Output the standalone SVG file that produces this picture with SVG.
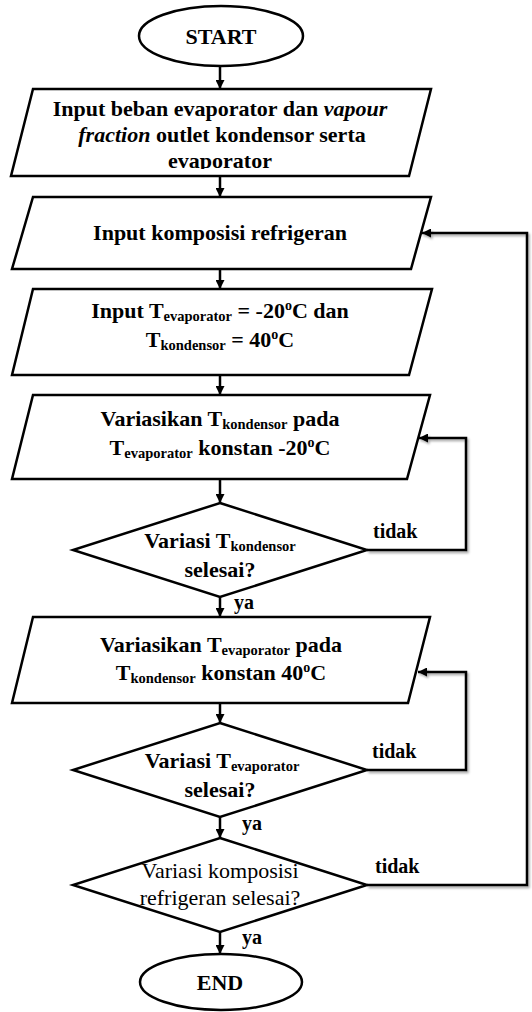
<svg xmlns="http://www.w3.org/2000/svg" width="532" height="1012" viewBox="0 0 532 1012">
<defs>
<style>
.shape{fill:#fff;stroke:#000;stroke-width:2.5;stroke-linejoin:miter}
.t{font-family:"Liberation Serif","Times New Roman",serif;font-size:22px;font-weight:bold;fill:#000;text-anchor:middle}
.r{font-weight:normal}
.sub{font-size:14.5px}
.sup{font-size:14px}
.lbl{font-family:"Liberation Serif","Times New Roman",serif;font-size:20px;font-weight:bold;fill:#000}
.c{fill:none;stroke:#000;stroke-width:2.5}
</style>
<marker id="ah" viewBox="0 0 10 10" refX="10" refY="5" markerWidth="9" markerHeight="9" markerUnits="userSpaceOnUse" orient="auto">
<path d="M0,0 L10,5 L0,10 z" fill="#000"/>
</marker>
<filter id="sh" x="-10%" y="-10%" width="130%" height="130%">
<feDropShadow dx="1.5" dy="2" stdDeviation="1.2" flood-color="#000" flood-opacity="0.35"/>
</filter>
<clipPath id="clip1"><rect x="0" y="89" width="532" height="80"/></clipPath>
</defs>

<g id="connectors">
<path class="c" d="M220,66 V89" marker-end="url(#ah)"/>
<path class="c" d="M220,176 V197" marker-end="url(#ah)"/>
<path class="c" d="M220,269 V289" marker-end="url(#ah)"/>
<path class="c" d="M220,375 V395" marker-end="url(#ah)"/>
<path class="c" d="M220,479 V503" marker-end="url(#ah)"/>
<path class="c" d="M220,597 V617" marker-end="url(#ah)"/>
<path class="c" d="M220,703 V723" marker-end="url(#ah)"/>
<path class="c" d="M220,817 V838" marker-end="url(#ah)"/>
<path class="c" d="M220,932 V954" marker-end="url(#ah)"/>
<path class="c" filter="url(#sh)" d="M367,550 H466 V438 H419" marker-end="url(#ah)"/>
<path class="c" filter="url(#sh)" d="M367,770 H466 V672 H418" marker-end="url(#ah)"/>
<path class="c" filter="url(#sh)" d="M367,885 H527 V233 H422" marker-end="url(#ah)"/>
<text class="lbl" x="234" y="609">ya</text>
<text class="lbl" x="242" y="830">ya</text>
<text class="lbl" x="242" y="944">ya</text>
<text class="lbl" x="373" y="538">tidak</text>
<text class="lbl" x="372" y="758">tidak</text>
<text class="lbl" x="375" y="873">tidak</text>
</g>

<g id="start">
<ellipse class="shape" cx="221" cy="36" rx="82" ry="30"/>
<text class="t" x="221" y="44">START</text>
</g>

<g id="input-beban">
<polygon class="shape" points="33,89 431,89 409,176 11,176"/>
<g clip-path="url(#clip1)">
<text class="t" x="220" y="116">Input beban evaporator dan <tspan font-style="italic">vapour</tspan></text>
<text class="t" x="222" y="142"><tspan font-style="italic">fraction</tspan> outlet kondensor serta</text>
<text class="t" x="220" y="168">evaporator</text>
</g>
</g>

<g id="input-komposisi">
<polygon class="shape" points="33,197 431,197 411,269 12,269"/>
<text class="t" x="220" y="240">Input komposisi refrigeran</text>
</g>

<g id="input-t">
<polygon class="shape" points="33,289 432,289 409,375 12,375"/>
<text class="t" x="220" y="318">Input T<tspan class="sub" dy="3">evaporator</tspan><tspan dy="-3"> = -20</tspan><tspan class="sup" dy="-8">o</tspan><tspan dy="8">C dan</tspan></text>
<text class="t" x="220" y="347">T<tspan class="sub" dy="3">kondensor</tspan><tspan dy="-3"> = 40</tspan><tspan class="sup" dy="-8">o</tspan><tspan dy="8">C</tspan></text>
</g>

<g id="variasi-kondensor">
<polygon class="shape" points="33,395 430,395 407,479 12,479"/>
<text class="t" x="220" y="426">Variasikan T<tspan class="sub" dy="3">kondensor</tspan><tspan dy="-3"> pada</tspan></text>
<text class="t" x="220" y="455">T<tspan class="sub" dy="3">evaporator</tspan><tspan dy="-3"> konstan -20</tspan><tspan class="sup" dy="-8">o</tspan><tspan dy="8">C</tspan></text>
</g>

<g id="cek-kondensor">
<polygon class="shape" points="220,503 367,550 220,597 73,550"/>
<text class="t" x="220" y="548">Variasi T<tspan class="sub" dy="3">kondensor</tspan></text>
<text class="t" x="220" y="577">selesai?</text>
</g>

<g id="variasi-evaporator">
<polygon class="shape" points="33,617 430,617 408,703 12,703"/>
<text class="t" x="221" y="652">Variasikan T<tspan class="sub" dy="3">evaporator</tspan><tspan dy="-3"> pada</tspan></text>
<text class="t" x="221" y="680">T<tspan class="sub" dy="3">kondensor</tspan><tspan dy="-3"> konstan 40</tspan><tspan class="sup" dy="-8">o</tspan><tspan dy="8">C</tspan></text>
</g>

<g id="cek-evaporator">
<polygon class="shape" points="220,723 367,770 220,817 73,770"/>
<text class="t" x="222" y="768">Variasi T<tspan class="sub" dy="3">evaporator</tspan></text>
<text class="t" x="220" y="797">selesai?</text>
</g>

<g id="cek-komposisi">
<polygon class="shape" points="220,838 367,885 220,932 73,885"/>
<text class="t r" x="220" y="878">Variasi komposisi</text>
<text class="t r" x="220" y="905">refrigeran selesai?</text>
</g>

<g id="end">
<ellipse class="shape" cx="221" cy="982" rx="81" ry="28"/>
<text class="t" x="220" y="990">END</text>
</g>
</svg>
